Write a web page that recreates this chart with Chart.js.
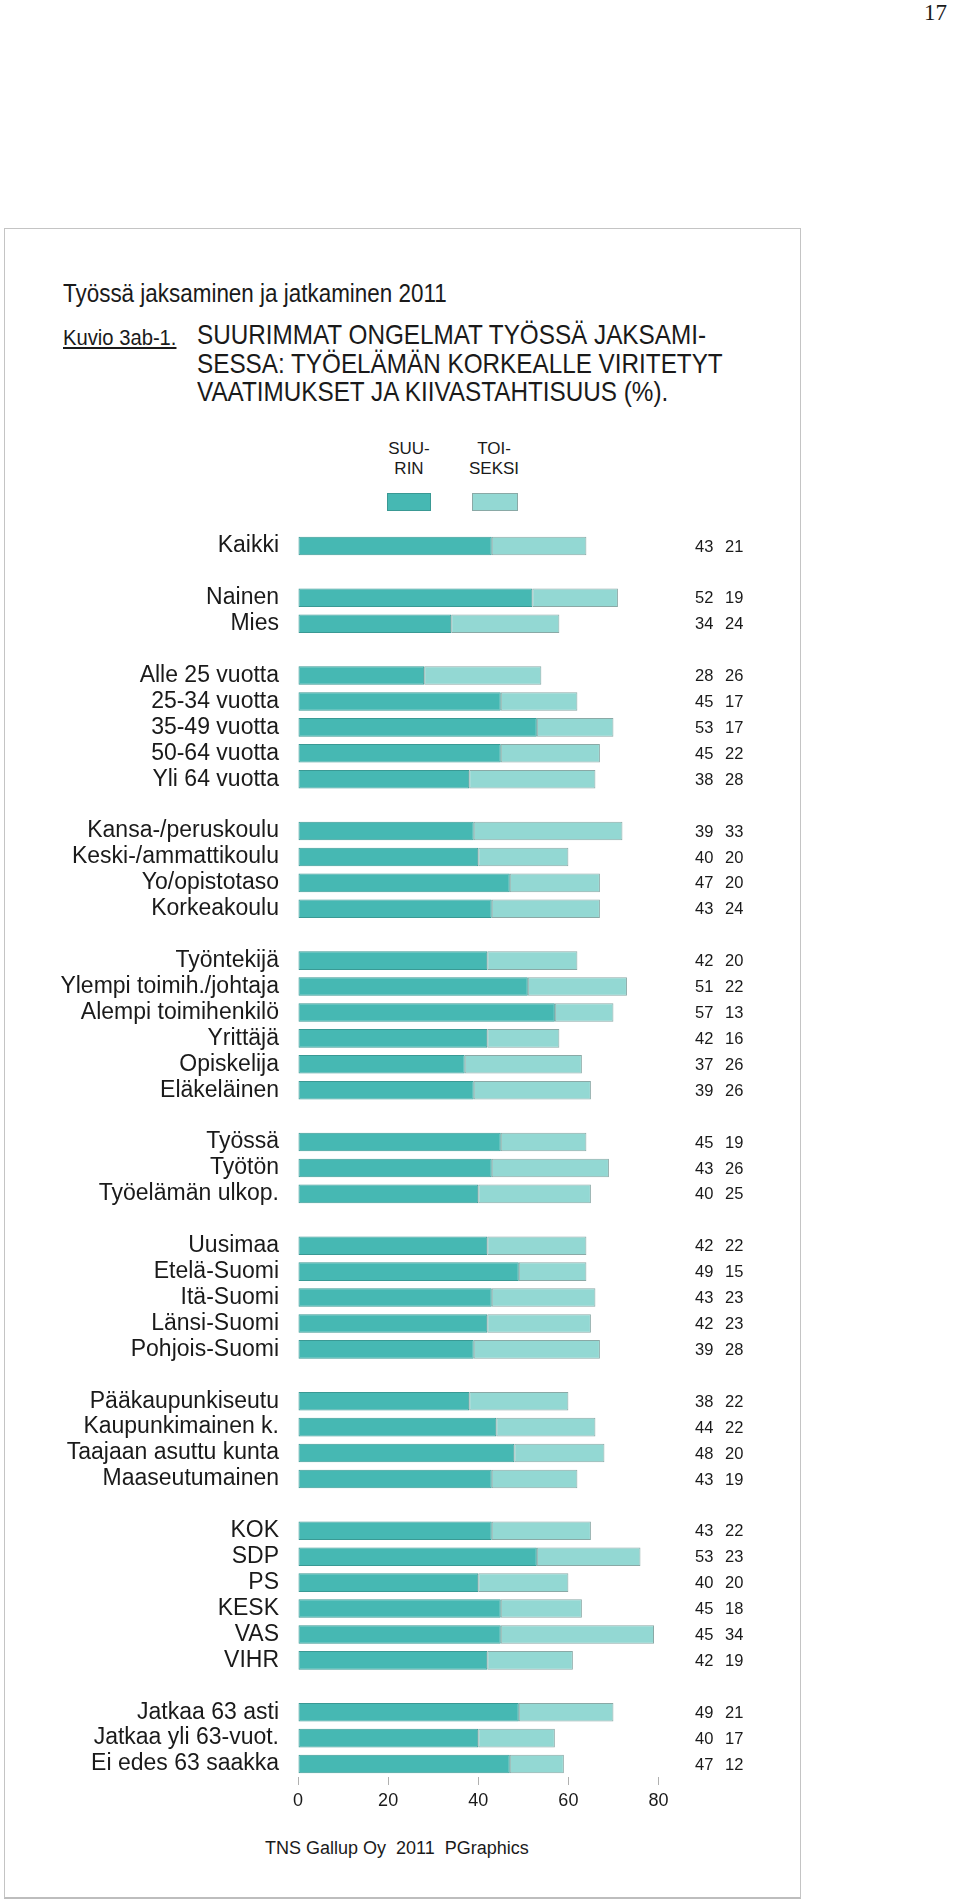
<!DOCTYPE html>
<html>
<head>
<meta charset="utf-8">
<script src="https://cdn.jsdelivr.net/npm/chart.js@4/dist/chart.umd.min.js"></script>
<style>
  html, body { margin: 0; padding: 0; background: #fff; }
  body { width: 960px; height: 1899px; position: relative; overflow: hidden;
         font-family: "Liberation Sans", Arial, Helvetica, sans-serif; color: #1a1a1a; }
  .abs { position: absolute; white-space: nowrap; }
  #frame { position: absolute; left: 4px; top: 228px; width: 795px; height: 1668px;
           border: 1px solid #c4c4c4; border-bottom: 2px solid #bdbdbd; }
  #pagenum { right: 13px; top: 0px; font-family: "Liberation Serif", "Times New Roman", serif; font-size: 23px; }
  #header { left: 63px; top: 279px; font-size: 25.5px; transform: scaleX(0.88); transform-origin: 0 0; }
  #kuvio { left: 63px; top: 326px; font-size: 21.5px; text-decoration: underline; transform: scaleX(0.94); transform-origin: 0 0; }
  #title { left: 197px; top: 321px; font-size: 28px; line-height: 28.5px; transform: scaleX(0.867); transform-origin: 0 0; }
  .leg { font-size: 17px; line-height: 20px; text-align: center; transform: translateX(-50%); }
  .box { position: absolute; height: 16px; border: 1px solid; }
  #footer { left: 265px; top: 1838px; font-size: 18px; }
  canvas { position: absolute; left: 0; top: 0; }
</style>
</head>
<body>
<div id="frame"></div>
<div id="pagenum" class="abs">17</div>
<div id="header" class="abs">Työssä jaksaminen ja jatkaminen 2011</div>
<div id="kuvio" class="abs">Kuvio 3ab-1.</div>
<div id="title" class="abs">SUURIMMAT ONGELMAT TYÖSSÄ JAKSAMI-<br>SESSA: TYÖELÄMÄN KORKEALLE VIRITETYT<br>VAATIMUKSET JA KIIVASTAHTISUUS (%).</div>
<div class="abs leg" style="left:409px; top:439px;">SUU-<br>RIN</div>
<div class="abs leg" style="left:494px; top:439px;">TOI-<br>SEKSI</div>
<div class="box" style="left:387px; top:493px; width:42px; background:#46b8b3; border-color:#3a9994;"></div>
<div class="box" style="left:472px; top:493px; width:44px; background:#93d8d3; border-color:#8aa9a6;"></div>
<div id="footer" class="abs">TNS Gallup Oy&nbsp; 2011&nbsp; PGraphics</div>
<canvas id="c" width="960" height="1899"></canvas>
<script>
// ---- data ----
const categories = [
  "Kaikki",
  "Nainen", "Mies",
  "Alle 25 vuotta", "25-34 vuotta", "35-49 vuotta", "50-64 vuotta", "Yli 64 vuotta",
  "Kansa-/peruskoulu", "Keski-/ammattikoulu", "Yo/opistotaso", "Korkeakoulu",
  "Työntekijä", "Ylempi toimih./johtaja", "Alempi toimihenkilö", "Yrittäjä", "Opiskelija", "Eläkeläinen",
  "Työssä", "Työtön", "Työelämän ulkop.",
  "Uusimaa", "Etelä-Suomi", "Itä-Suomi", "Länsi-Suomi", "Pohjois-Suomi",
  "Pääkaupunkiseutu", "Kaupunkimainen k.", "Taajaan asuttu kunta", "Maaseutumainen",
  "KOK", "SDP", "PS", "KESK", "VAS", "VIHR",
  "Jatkaa 63 asti", "Jatkaa yli 63-vuot.", "Ei edes 63 saakka"
];
const groupSizes = [1, 2, 5, 4, 6, 3, 5, 4, 6, 3];
const suurin = [
  43,
  52, 34,
  28, 45, 53, 45, 38,
  39, 40, 47, 43,
  42, 51, 57, 42, 37, 39,
  45, 43, 40,
  42, 49, 43, 42, 39,
  38, 44, 48, 43,
  43, 53, 40, 45, 45, 42,
  49, 40, 47
];
const toiseksi = [
  21,
  19, 24,
  26, 17, 17, 22, 28,
  33, 20, 20, 24,
  20, 22, 13, 16, 26, 26,
  19, 26, 25,
  22, 15, 23, 23, 28,
  22, 22, 20, 19,
  22, 23, 20, 18, 34, 19,
  21, 17, 12
];
const xTicks = [0, 20, 40, 60, 80];
const seriesNames = ["SUURIN", "TOISEKSI"];

// ---- build slots with empty rows between groups ----
const labels = [], d1 = [], d2 = [];
let k = 0;
groupSizes.forEach((n, g) => {
  if (g > 0) { labels.push(""); d1.push(null); d2.push(null); }
  for (let j = 0; j < n; j++, k++) {
    labels.push(categories[k]); d1.push(suurin[k]); d2.push(toiseksi[k]);
  }
});

const FONT = '"Liberation Sans", Arial, Helvetica, sans-serif';
const TXT = '#1a1a1a';

const valueLabels = {
  id: 'valueLabels',
  afterDatasetsDraw(chart) {
    const ctx = chart.ctx, ys = chart.scales.y;
    ctx.save();
    ctx.font = '16.5px ' + FONT;
    ctx.fillStyle = TXT;
    ctx.textBaseline = 'middle';
    ctx.textAlign = 'left';
    labels.forEach((lab, i) => {
      if (d1[i] == null) return;
      const y = ys.getPixelForValue(i) + 1;
      ctx.fillText(String(d1[i]), 695, y);
      ctx.fillText(String(d2[i]), 725, y);
    });
    ctx.restore();
  }
};

new Chart(document.getElementById('c'), {
  type: 'bar',
  data: {
    labels: labels,
    datasets: [
      { label: seriesNames[0], data: d1, backgroundColor: '#46b8b3', borderColor: '#3a9994',
        borderWidth: 1, borderSkipped: false, categoryPercentage: 1, barPercentage: 0.72 },
      { label: seriesNames[1], data: d2, backgroundColor: '#93d8d3', borderColor: '#8aa9a6',
        borderWidth: 1, borderSkipped: false, categoryPercentage: 1, barPercentage: 0.72 }
    ]
  },
  options: {
    indexAxis: 'y',
    responsive: false,
    animation: false,
    events: [],
    layout: { padding: { top: 533, right: 301.5, bottom: 62, left: 0 } },
    plugins: { legend: { display: false }, tooltip: { enabled: false }, title: { display: false } },
    scales: {
      x: {
        stacked: true, min: 0, max: 80,
        afterBuildTicks(s) { s.ticks = xTicks.map(v => ({ value: v })); },
        afterFit(s) { s.height = 60; },
        border: { display: false },
        grid: { drawOnChartArea: false, drawTicks: true, tickLength: 8, color: '#b0b0b0', lineWidth: 1 },
        ticks: { font: { size: 18, family: FONT }, color: TXT, padding: 5 }
      },
      y: {
        stacked: true,
        afterFit(s) { s.width = 298; },
        border: { display: false },
        grid: { display: false },
        ticks: { autoSkip: false, font: { size: 23, family: FONT }, color: TXT, padding: 11 }
      }
    }
  },
  plugins: [valueLabels]
});
</script>
</body>
</html>
